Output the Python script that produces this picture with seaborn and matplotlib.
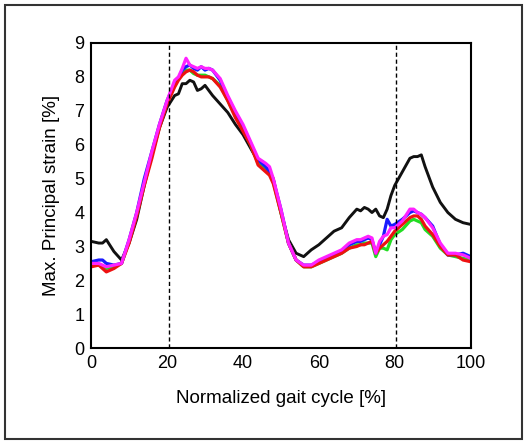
import pandas as pd
import seaborn as sns
import matplotlib.pyplot as plt
from matplotlib.patches import Rectangle

# =========================
# DATA
# =========================
gait = [0, 2, 3, 4, 6, 8, 10, 12, 14, 16,
        18, 20, 22, 23, 24, 25, 26, 27, 28, 29,
        30, 31, 32, 34, 36, 38, 40, 42, 44, 46,
        47, 48, 50, 52, 54, 56, 58, 60, 62, 64,
        66, 68, 70, 71, 72, 73, 74, 75, 76, 77,
        78, 79, 80, 82, 84, 85, 86, 87, 88, 90,
        92, 94, 96, 98, 100]

black = [3.15, 3.1, 3.1, 3.2, 2.85, 2.6, 3.1, 3.8, 4.8, 5.7,
         6.5, 7.1, 7.45, 7.5, 7.8, 7.8, 7.9, 7.85, 7.6, 7.65,
         7.75, 7.6, 7.45, 7.2, 6.95, 6.6, 6.3, 5.9, 5.5, 5.3,
         5.2, 5.0, 4.0, 3.2, 2.8, 2.7, 2.9, 3.05, 3.25, 3.45,
         3.55, 3.85, 4.1, 4.05, 4.15, 4.1, 4.0, 4.1, 3.9, 3.85,
         4.1, 4.5, 4.8, 5.2, 5.6, 5.65, 5.65, 5.7, 5.35, 4.75,
         4.3, 4.0, 3.8, 3.7, 3.65]

green = [2.45, 2.45, 2.4, 2.35, 2.4, 2.5, 3.15, 3.95, 4.85, 5.7,
         6.55, 7.25, 7.75, 7.95, 8.1, 8.2, 8.2, 8.1, 8.05, 8.05,
         8.05, 8.0, 7.95, 7.75, 7.3, 6.85, 6.45, 6.0, 5.45, 5.25,
         5.15, 4.9, 4.0, 3.1, 2.6, 2.4, 2.4, 2.5, 2.6, 2.7,
         2.8, 2.95, 3.05, 3.05, 3.1, 3.1, 3.1, 2.7, 2.95, 2.95,
         2.9, 3.2, 3.35, 3.5, 3.75, 3.8, 3.75, 3.7, 3.5, 3.3,
         2.95, 2.75, 2.7, 2.65, 2.6]

blue = [2.55, 2.6, 2.6, 2.5, 2.45, 2.5, 3.2, 4.0, 5.0, 5.8,
        6.6, 7.3, 7.8, 7.95, 8.2, 8.3, 8.35, 8.25, 8.2, 8.3,
        8.2, 8.25, 8.2, 7.9, 7.4, 6.95, 6.55, 6.05, 5.55, 5.35,
        5.2, 4.95, 4.1, 3.1, 2.6, 2.45, 2.45, 2.55, 2.65, 2.75,
        2.85, 3.05, 3.15, 3.15, 3.2, 3.25, 3.2, 2.8, 3.05, 3.3,
        3.8, 3.6, 3.65, 3.8, 4.0, 4.05, 4.0, 3.95, 3.85, 3.6,
        3.05, 2.75, 2.75, 2.8, 2.7]

red = [2.4, 2.45, 2.35, 2.25, 2.35, 2.5, 3.1, 3.9, 4.8, 5.6,
       6.5, 7.2, 7.7, 7.9, 8.05, 8.15, 8.2, 8.15, 8.05, 8.0,
       8.0, 8.0, 7.95, 7.7, 7.3, 6.8, 6.4, 6.0, 5.4, 5.2,
       5.1, 4.85, 4.0, 3.1, 2.6, 2.4, 2.4, 2.5, 2.6, 2.7,
       2.8, 2.95, 3.0, 3.05, 3.05, 3.1, 3.15, 2.8, 2.95, 3.05,
       3.15, 3.3, 3.45, 3.65, 3.85, 3.9, 3.9, 3.8, 3.6, 3.35,
       3.0, 2.75, 2.75, 2.6, 2.55]

magenta = [2.5, 2.5, 2.45, 2.4, 2.45, 2.5, 3.2, 4.0, 4.9, 5.8,
           6.6, 7.3, 7.9, 8.0, 8.25, 8.55, 8.35, 8.3, 8.25, 8.3,
           8.25, 8.25, 8.2, 7.95, 7.45, 7.0, 6.6, 6.1, 5.6, 5.45,
           5.35, 5.0, 4.1, 3.1, 2.6, 2.45, 2.45, 2.6, 2.7, 2.8,
           2.9, 3.1, 3.2, 3.2, 3.25, 3.3, 3.25, 2.8, 3.15, 3.3,
           3.35, 3.55, 3.55, 3.75, 4.1, 4.1, 4.0, 3.95, 3.85, 3.55,
           3.1, 2.8, 2.8, 2.75, 2.65]

phase_lines = [20.5, 80.3]

series = {'black': black, 'green': green, 'blue': blue,
          'red': red, 'magenta': magenta}
widths = {'black': 2.1, 'green': 2.3, 'blue': 2.3, 'red': 2.3, 'magenta': 2.3}
colors = {'black': '#111111', 'green': '#22dd22', 'blue': '#1a1aff',
          'red': '#ee1111', 'magenta': '#ff22ff'}

df = pd.concat([pd.DataFrame({'gait': gait, 'strain': v, 'subject': k})
                for k, v in series.items()], ignore_index=True)

# =========================
# PLOT
# =========================
sns.set_theme(style='white')
plt.rcParams['font.family'] = ['Liberation Sans', 'DejaVu Sans']

fig = plt.figure(figsize=(5.3, 4.43), dpi=100)
ax = fig.add_axes([0.172, 0.214, 0.716, 0.689])

for k in series:
    sns.lineplot(data=df[df['subject'] == k], x='gait', y='strain',
                 color=colors[k], lw=widths[k], ax=ax, estimator=None)

for xv in phase_lines:
    ax.axvline(xv, color='black', ls=(0, (3, 2)), lw=1.0)

ax.set_xlim(0, 100)
ax.set_ylim(0, 9)
ax.set_xticks([0, 20, 40, 60, 80, 100])
ax.set_yticks(range(0, 10))
ax.tick_params(direction='in', length=5, width=1.2, labelsize=13,
               colors='black', pad=5, top=False, right=False)
for s in ax.spines.values():
    s.set_color('black')
    s.set_linewidth(1.5)

ax.set_xlabel('Normalized gait cycle [%]', fontsize=13.5, labelpad=13, color='black')
ax.set_ylabel('Max. Principal strain [%]', fontsize=13.5, labelpad=10, color='black')

# outer frame round the whole figure
fig.patches.append(Rectangle((0.009, 0.009), 0.976, 0.98, transform=fig.transFigure,
                             fill=False, edgecolor='#333333', lw=1.5))

fig.savefig('out.png', dpi=100)
